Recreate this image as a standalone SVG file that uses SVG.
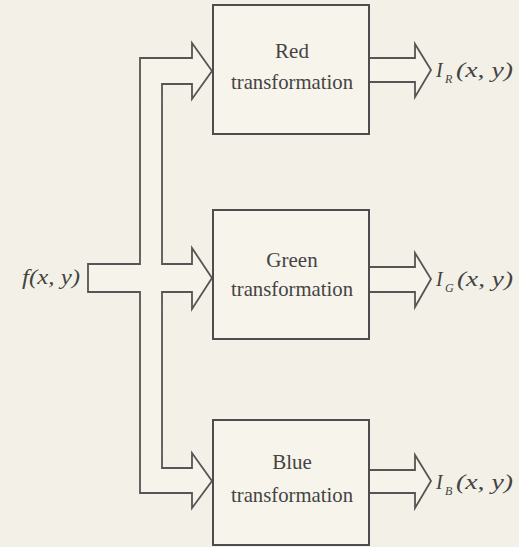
<svg xmlns="http://www.w3.org/2000/svg" width="519" height="547" viewBox="0 0 519 547">
<style>
.bg{fill:#f3f1e7}
.box{fill:#f6f4eb;stroke:#4d4d4d;stroke-width:2}
.conn{fill:#f5f3ea;stroke:#555;stroke-width:1.8;stroke-linejoin:miter}
.lbl{font-family:'Liberation Serif','DejaVu Serif',serif;font-size:21px;fill:#444;text-anchor:middle}
.math{font-family:'Liberation Serif','DejaVu Serif',serif;font-style:italic;font-size:20px;fill:#444}
.sub{font-family:'Liberation Serif','DejaVu Serif',serif;font-style:italic;font-size:12px;fill:#444}
</style>
<rect class="bg" x="0" y="0" width="519" height="547"/>
<g id="connectors">
<path class="conn" d="M88,264 H140 V58 H192 V43 L212,71 L192,99 V84 H162 V264 H192 V248 L212,278 L192,309 V292 H162 V468 H192 V453 L212,481 L192,508 V493 H140 V292 H88 Z"/>
<path class="conn" d="M370,58 H415 V44 L431,70 L415,97 V82 H370"/>
<path class="conn" d="M370,267 H415 V253 L431,279 L415,307 V292 H370"/>
<path class="conn" d="M370,470 H415 V455 L431,481 L415,508 V493 H370"/>
</g>
<g id="input">
<text class="math" x="22" y="284" textLength="58" lengthAdjust="spacingAndGlyphs">f(x, y)</text>
</g>
<g id="red">
<rect class="box" x="213" y="5" width="156" height="129"/>
<text class="lbl" x="292" y="58">Red</text>
<text class="lbl" x="292" y="89" textLength="122" lengthAdjust="spacingAndGlyphs">transformation</text>
</g>
<g id="green">
<rect class="box" x="213" y="210" width="156" height="129"/>
<text class="lbl" x="292" y="267">Green</text>
<text class="lbl" x="292" y="296" textLength="122" lengthAdjust="spacingAndGlyphs">transformation</text>
</g>
<g id="blue">
<rect class="box" x="213" y="420" width="156" height="125"/>
<text class="lbl" x="292" y="469">Blue</text>
<text class="lbl" x="292" y="502" textLength="122" lengthAdjust="spacingAndGlyphs">transformation</text>
</g>
<g id="out-red">
<text class="math" x="436" y="77">I</text>
<text class="sub" x="445" y="83">R</text>
<text class="math" x="456" y="77" textLength="57" lengthAdjust="spacingAndGlyphs">(x, y)</text>
</g>
<g id="out-green">
<text class="math" x="436" y="286">I</text>
<text class="sub" x="445" y="292">G</text>
<text class="math" x="457" y="286" textLength="56" lengthAdjust="spacingAndGlyphs">(x, y)</text>
</g>
<g id="out-blue">
<text class="math" x="436" y="489">I</text>
<text class="sub" x="445" y="495">B</text>
<text class="math" x="456" y="489" textLength="57" lengthAdjust="spacingAndGlyphs">(x, y)</text>
</g>
</svg>
